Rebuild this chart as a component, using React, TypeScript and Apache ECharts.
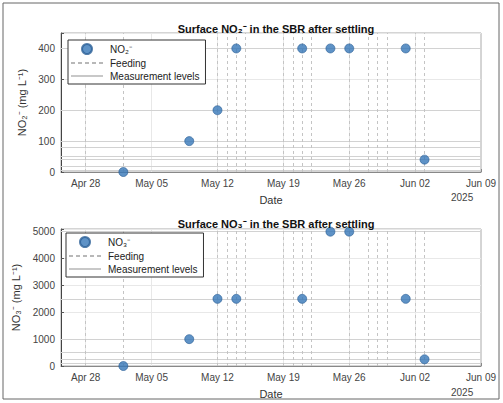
import React, { useEffect, useRef } from "react";
import * as echarts from "echarts";

const pointDates = ["2025-05-02", "2025-05-09", "2025-05-12", "2025-05-14", "2025-05-21", "2025-05-24", "2025-05-26", "2025-06-01", "2025-06-03"];
const no2Values = [0, 100, 200, 400, 400, 400, 400, 400, 40];
const no3Values = [0, 1000, 2500, 2500, 2500, 5000, 5000, 2500, 250];
const feedingDates = ["2025-04-28", "2025-05-02", "2025-05-12", "2025-05-13", "2025-05-14", "2025-05-15", "2025-05-19", "2025-05-20", "2025-05-21", "2025-05-22", "2025-05-26", "2025-05-28", "2025-05-29", "2025-05-30", "2025-06-02", "2025-06-03"];
const no2Levels = [5, 20, 40, 50, 80, 100, 200, 400];
const no3Levels = [100, 250, 500, 1000, 2500, 5000];
const xTickDates = ["2025-04-28", "2025-05-05", "2025-05-12", "2025-05-19", "2025-05-26", "2025-06-02", "2025-06-09"];
const xMinDate = "2025-04-25T09:00:00Z";
const xMaxDate = "2025-06-09T00:00:00Z";
const MONTHS = ["Jan", "Feb", "Mar", "Apr", "May", "Jun", "Jul", "Aug", "Sep", "Oct", "Nov", "Dec"];

const ts = (d: string) => Date.parse(d.length === 10 ? d + "T00:00:00Z" : d);
const fmt = (v: number) => {
  const d = new Date(v);
  return `${MONTHS[d.getUTCMonth()]} ${String(d.getUTCDate()).padStart(2, "0")}`;
};

const FONT = "Liberation Sans, Arial, sans-serif";
const BLUE = "#3677b8";

export default function App() {
  const ref = useRef<HTMLDivElement>(null);
  useEffect(() => {
    if (!ref.current) return;
    const chart = echarts.init(ref.current, undefined, { renderer: "svg" });
    const grids = [
      { left: 61, top: 33, width: 420, height: 139 },
      { left: 61, top: 229, width: 420, height: 137 },
    ];
    const tickVals = xTickDates.map(ts);
    const xAxis = [0, 1].map((i) => ({
      type: "value",
      gridIndex: i,
      min: ts(xMinDate),
      max: ts(xMaxDate),
      name: "Date",
      nameLocation: "middle",
      nameGap: 22,
      nameTextStyle: { fontFamily: FONT, fontSize: 11, color: "#333" },
      axisLine: { show: true, onZero: false, lineStyle: { color: "#888" } },
      axisTick: { show: true, inside: true, length: 3, customValues: tickVals, lineStyle: { color: "#888" } },
      axisLabel: { customValues: tickVals, formatter: (v: number) => fmt(v), fontFamily: FONT, fontSize: 10, color: "#444", margin: 6 },
      splitLine: { show: false },
    }));
    const yAxis = [
      { max: 450, interval: 100, name: "NO\u2082\u207B (mg L\u207B\u00B9)", gap: 27 },
      { max: 5100, interval: 1000, name: "NO\u2083\u207B (mg L\u207B\u00B9)", gap: 31 },
    ].map((o, i) => ({
      type: "value",
      gridIndex: i,
      min: 0,
      max: o.max,
      interval: o.interval,
      name: o.name,
      nameLocation: "middle",
      nameGap: o.gap,
      nameTextStyle: { fontFamily: FONT, fontSize: 11, color: "#333" },
      axisLine: { show: true, lineStyle: { color: "#444" } },
      axisTick: { show: true, inside: true, length: 3, lineStyle: { color: "#555" } },
      axisLabel: {
        fontFamily: FONT,
        fontSize: 10,
        color: "#444",
        margin: 6,
        formatter: (v: number) => (v % o.interval === 0 ? String(v) : ""),
      },
      splitLine: { show: true, lineStyle: { color: "#e8e8e8", width: 1 } },
    }));

    const seriesFor = (i: number, name: string, values: number[], levels: number[]) => [
      {
        name: "grid" + i,
        type: "line",
        xAxisIndex: i,
        yAxisIndex: i,
        data: [],
        silent: true,
        markLine: {
          silent: true,
          symbol: "none",
          label: { show: false },
          lineStyle: { color: "#e8e8e8", type: "solid", width: 1 },
          data: tickVals.slice(0, -1).map((v) => ({ xAxis: v })),
        },
      },
      {
        name: "Measurement levels",
        type: "line",
        xAxisIndex: i,
        yAxisIndex: i,
        data: [],
        symbol: "none",
        lineStyle: { color: "#c8c8c8", width: 1, type: "solid" },
        itemStyle: { color: "#c8c8c8" },
        markLine: {
          silent: true,
          symbol: "none",
          label: { show: false },
          lineStyle: { color: "#d2d2d2", type: "solid", width: 1 },
          data: levels.map((v) => ({ yAxis: v })),
        },
      },
      {
        name: "Feeding",
        type: "line",
        xAxisIndex: i,
        yAxisIndex: i,
        data: [],
        symbol: "none",
        lineStyle: { color: "#b8b8b8", width: 1, type: [4, 3] },
        itemStyle: { color: "#b8b8b8" },
        markLine: {
          silent: true,
          symbol: "none",
          label: { show: false },
          lineStyle: { color: "#c4c4c4", type: [3, 3], width: 1 },
          data: feedingDates.map((d) => ({ xAxis: ts(d) })),
        },
      },
      {
        name,
        type: "scatter",
        xAxisIndex: i,
        yAxisIndex: i,
        symbol: "circle",
        symbolSize: 9,
        itemStyle: { color: BLUE, borderColor: "#2a5f96", borderWidth: 0.8 },
        data: pointDates.map((d, k) => [ts(d), values[k]]),
        z: 5,
      },
    ];

    const n2 = "NO\u2082\u207B";
    const n3 = "NO\u2083\u207B";
    const hideSym = { itemStyle: { opacity: 0, borderWidth: 0 } };
    const legendFor = (name: string, left: number, top: number) => ({
      show: true,
      orient: "vertical",
      left,
      top,
      data: [
        { name, icon: "circle", itemStyle: { color: BLUE } },
        { name: "Feeding", ...hideSym },
        { name: "Measurement levels", ...hideSym },
      ],
      itemWidth: 32,
      itemHeight: 10,
      itemGap: 3,
      padding: [3, 6, 3, 2],
      borderColor: "#333",
      borderWidth: 1,
      backgroundColor: "#fff",
      selectedMode: false,
      textStyle: { fontFamily: FONT, fontSize: 10, color: "#222", padding: [0, 0, 0, 2] },
      z: 10,
    });

    chart.setOption({
      animation: false,
      backgroundColor: "#fff",
      title: [
        { text: "Surface " + n2 + " in the SBR after settling", left: 271, top: 18, textAlign: "center", textStyle: { fontFamily: FONT, fontSize: 11, fontWeight: "bold", color: "#111" } },
        { text: "Surface " + n3 + " in the SBR after settling", left: 271, top: 213, textAlign: "center", textStyle: { fontFamily: FONT, fontSize: 11, fontWeight: "bold", color: "#111" } },
      ],
      grid: grids.map((g) => ({ ...g, show: true, borderColor: "#aaa", borderWidth: 1, backgroundColor: "transparent" })),
      xAxis,
      yAxis,
      legend: [legendFor(n2, 68, 40), legendFor(n3, 66, 233)],
      series: [...seriesFor(0, n2, no2Values, no2Levels), ...seriesFor(1, n3, no3Values, no3Levels)],
      graphic: [
        { type: "rect", shape: { x: 3, y: 3, width: 496, height: 396 }, style: { fill: "none", stroke: "#666", lineWidth: 1 }, silent: true },
        { type: "text", left: 451, top: 192, style: { text: "2025", fontFamily: FONT, fontSize: 10, fill: "#444" } },
        { type: "text", left: 451, top: 387, style: { text: "2025", fontFamily: FONT, fontSize: 10, fill: "#444" } },
      ],
    });
    return () => chart.dispose();
  }, []);
  return <div ref={ref} style={{ position: "absolute", left: 0, top: 0, width: 503, height: 403 }} />;
}
